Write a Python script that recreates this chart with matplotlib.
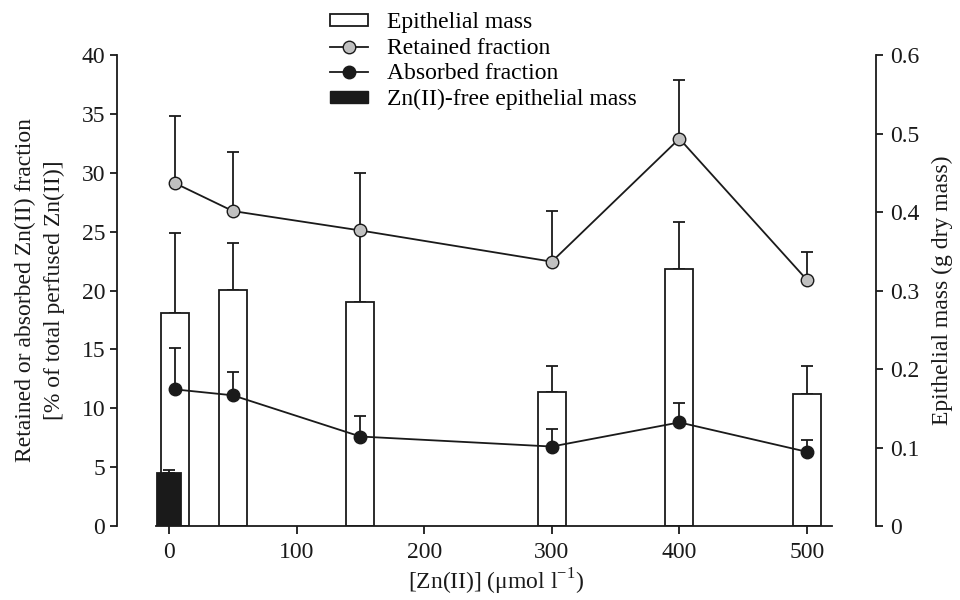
import matplotlib
matplotlib.use("Agg")
import matplotlib.pyplot as plt
from matplotlib.patches import Patch
from matplotlib.lines import Line2D

plt.rcParams['font.family'] = ['Liberation Serif', 'DejaVu Serif']
plt.rcParams['mathtext.fontset'] = 'custom'
plt.rcParams['mathtext.rm'] = 'Liberation Serif'

# Data
conc = [5, 50, 150, 300, 400, 500]
retained = [29.1, 26.75, 25.1, 22.45, 32.9, 20.9]
retained_err = [5.7, 5.0, 4.9, 4.3, 5.0, 2.35]
absorbed = [11.6, 11.1, 7.6, 6.75, 8.8, 6.3]
absorbed_err = [3.5, 2.0, 1.76, 1.5, 1.67, 1.04]
mass = [0.272, 0.301, 0.286, 0.171, 0.327, 0.168]
mass_err = [0.101, 0.060, 0.090, 0.033, 0.060, 0.036]
free_conc = [0]
free_mass = [0.0675]
free_err = [0.004]
xticks = [0, 100, 200, 300, 400, 500]

INK = '#1a1a1a'
FS = 17

fig = plt.figure(figsize=(9.6, 6), dpi=100)
ax = fig.add_axes([0.1219, 0.1233, 0.7906, 0.785])
ax2 = ax.twinx()
ax.set_zorder(ax2.get_zorder() + 1)
ax.patch.set_visible(False)

lw = 1.3
# Bars on right axis
ax2.bar(conc, mass, width=22, color='white', edgecolor=INK, linewidth=lw, zorder=2)
ax2.errorbar(conc, mass, yerr=[[0]*len(mass), mass_err], fmt='none', ecolor=INK,
             elinewidth=lw, capsize=4, capthick=lw, zorder=1)
ax2.bar(free_conc, free_mass, width=19.5, color=INK, edgecolor=INK, linewidth=lw, zorder=3)
ax2.errorbar(free_conc, free_mass, yerr=[[0], free_err], fmt='none', ecolor=INK,
             elinewidth=lw, capsize=4, capthick=lw, zorder=3)

# Lines on left axis
ax.errorbar(conc, retained, yerr=[[0]*len(retained), retained_err], fmt='none', ecolor=INK,
            elinewidth=lw, capsize=4, capthick=lw, zorder=2)
ax.plot(conc, retained, '-o', color=INK, lw=lw, markersize=9, markerfacecolor='#c0c0c0',
        markeredgecolor=INK, markeredgewidth=1.0, zorder=3)
ax.errorbar(conc, absorbed, yerr=[[0]*len(absorbed), absorbed_err], fmt='none', ecolor=INK,
            elinewidth=lw, capsize=4, capthick=lw, zorder=2)
ax.plot(conc, absorbed, '-o', color=INK, lw=lw, markersize=9, markerfacecolor=INK,
        markeredgecolor=INK, zorder=3)

ax.set_xlim(-40.75, 554.1)
ax.set_ylim(0, 40)
ax2.set_ylim(0, 0.6)
ax.set_xticks(xticks)
ax.set_yticks(range(0, 41, 5))
ax2.set_yticks([0, 0.1, 0.2, 0.3, 0.4, 0.5, 0.6])
ax2.set_yticklabels(['0', '0.1', '0.2', '0.3', '0.4', '0.5', '0.6'])

for a in (ax, ax2):
    a.spines['top'].set_visible(False)
    for s in a.spines.values():
        s.set_linewidth(lw)
        s.set_color(INK)
ax.spines['right'].set_visible(False)
ax2.spines['left'].set_visible(False)
ax2.spines['bottom'].set_visible(False)
ax.spines['bottom'].set_bounds(-10, 520)

ax.tick_params(axis='y', direction='out', length=5, width=lw, labelsize=FS, pad=3.5, colors=INK)
ax.tick_params(axis='x', direction='out', length=5.5, width=lw, labelsize=FS, pad=6, colors=INK)
ax2.tick_params(axis='y', direction='out', length=5, width=lw, labelsize=FS, pad=5, colors=INK)

ax.set_ylabel('Retained or absorbed Zn(II) fraction\n[% of total perfused Zn(II)]', fontsize=FS,
              linespacing=1.5, labelpad=12, color=INK)
ax2.set_ylabel('Epithelial mass (g dry mass)', fontsize=FS, labelpad=9, color=INK)
ax.set_xlabel(r'[Zn(II)] ($\mathregular{\mu}$mol l$^{\mathregular{-1}}$)', fontsize=FS, labelpad=3,
              color=INK)

handles = [
    Patch(facecolor='white', edgecolor=INK, linewidth=lw),
    Line2D([], [], color=INK, lw=lw, marker='o', markersize=9, markerfacecolor='#c0c0c0',
           markeredgecolor=INK),
    Line2D([], [], color=INK, lw=lw, marker='o', markersize=9, markerfacecolor=INK),
    Patch(facecolor=INK, edgecolor=INK),
]
labels = ['Epithelial mass', 'Retained fraction', 'Absorbed fraction', 'Zn(II)-free epithelial mass']
fig.legend(handles, labels, loc='upper left', bbox_to_anchor=(0.344, 0.98), frameon=False,
           fontsize=FS, handlelength=1.6, handleheight=0.4, labelspacing=0.2, handletextpad=0.8,
           borderaxespad=0, borderpad=0)

fig.savefig('out.png', dpi=100)
